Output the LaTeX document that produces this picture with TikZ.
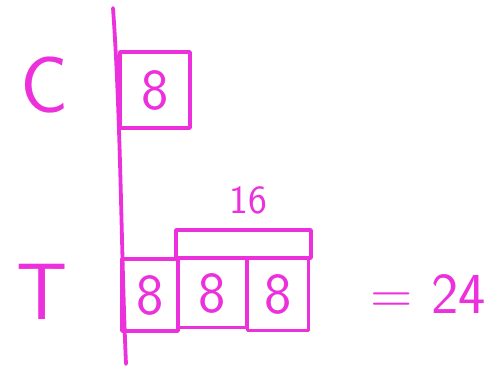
\documentclass[tikz,border=0pt]{standalone}
\usepackage{tikz}
\usetikzlibrary{positioning}
\definecolor{handpink}{RGB}{236,48,220}
\tikzset{pen/.style={draw=handpink, line width=3.8pt, line cap=round, line join=round},
  lbl/.style={text=handpink, font=\sffamily\fontsize{80}{80}\selectfont, inner sep=0pt},
  cell/.style={pen, text=handpink, inner sep=0pt, font=\sffamily\fontsize{58}{58}\selectfont}}
\begin{document}
\begin{tikzpicture}[x=1pt,y=-1pt]
\useasboundingbox (0,0) rectangle (496,370);
% axis
\coordinate (axtop) at (113,8);
\coordinate (axbot) at (126,364);
\draw[pen] (axtop) .. controls (121,120) and (121,250) .. (axbot);
% rows
\node[lbl] (C) at (45,85) {C};
\node[lbl] (T) at (42,292) {T};
\node[cell, minimum width=70pt, minimum height=76pt] (cbox) at (155,90) {8};
\node[cell, minimum width=56pt, minimum height=72pt] (t1) at (150,295) {8};
\node[cell, minimum width=69pt, minimum height=69pt] (t2) at (212.5,293) {8};
\node[cell, minimum width=61pt, minimum height=73pt] (t3) at (278,294) {8};
% bar for 16
\node[pen, minimum width=135pt, minimum height=28pt] (bar) at (243.5,244) {};
\node[text=handpink, font=\sffamily\fontsize{40}{40}\selectfont, inner sep=0pt] (sixteen) at (248,200) {16};
\node[text=handpink, font=\sffamily\fontsize{58}{58}\selectfont, inner sep=0pt] (total) at (428,294) {= 24};
\end{tikzpicture}
\end{document}
